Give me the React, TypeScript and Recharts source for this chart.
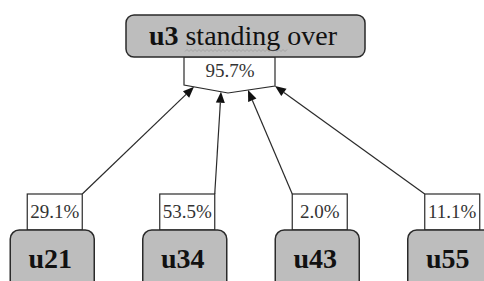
import React from 'react';
import { ComposedChart, Bar, XAxis, YAxis, Customized } from 'recharts';

// diagram values
const childNames = ['u21', 'u34', 'u43', 'u55'];
const childShares = [29.1, 53.5, 2.0, 11.1];
const parentName = 'u3';
const parentAction = 'standing over';
const parentShare = 95.7;

const data = childNames.map((name, i) => ({ name, share: childShares[i] }));

const W = 484;
const H = 281;
const SERIF = '"Liberation Serif", "Times New Roman", serif';
const BOX_FILL = '#bdbdbd';
const EDGE = '#2a2a2a';

// layout of the parent block
const P = { left: 126, right: 365, top: 15, bottom: 57 };
const TAG = { left: 184, right: 275, cornerL: 85, dip: 93, dipX: 228, cornerR: 86 };

// y of the tag's bottom edge at a given x
const tagBottomY = (x: number) => {
  if (x <= TAG.dipX) {
    return TAG.cornerL + ((x - TAG.left) / (TAG.dipX - TAG.left)) * (TAG.dip - TAG.cornerL);
  }
  return TAG.dip + ((x - TAG.dipX) / (TAG.right - TAG.dipX)) * (TAG.cornerR - TAG.dip);
};

const fmt = (v: number) => `${v.toFixed(1)}%`;

const ParentNode = () => {
  const squiggle: string[] = [];
  for (let x = 185, k = 0; x <= 287; x += 2, k++) {
    squiggle.push(`${x},${k % 2 ? 49.5 : 51.5}`);
  }
  return (
    <g>
      <path
        d={`M${TAG.left},${P.bottom} L${TAG.right},${P.bottom} L${TAG.right},${TAG.cornerR} L${TAG.dipX},${TAG.dip} L${TAG.left},${TAG.cornerL} Z`}
        fill="#fff"
        stroke={EDGE}
        strokeWidth={1.2}
      />
      <text x={230} y={77} textAnchor="middle" fontFamily={SERIF} fontSize={19} fill="#333">
        {fmt(parentShare)}
      </text>
      <rect
        x={P.left}
        y={P.top}
        width={P.right - P.left}
        height={P.bottom - P.top}
        rx={8}
        fill={BOX_FILL}
        stroke={EDGE}
        strokeWidth={1.5}
      />
      <text x={243} y={45} textAnchor="middle" fontFamily={SERIF} fontSize={28} fill="#111">
        <tspan fontWeight="bold">{parentName}</tspan>
        <tspan> {parentAction}</tspan>
      </text>
      <polyline points={squiggle.join(' ')} fill="none" stroke="#9a9a9a" strokeWidth={0.8} />
    </g>
  );
};

const ChildNode = (props: any) => {
  const { x, width, index } = props;
  const item = props.payload && props.payload.name ? props.payload : data[index];
  const cx = x + width / 2;
  const labelL = cx - 25;
  const labelR = cx + 30;
  const labelTop = 194;
  const nodeTop = 230;

  // arrow from the label corner to the parent tag
  const sx = index < 2 ? labelR : labelL;
  const sy = labelTop;
  const tx = 194 + index * 27;
  const ty = tagBottomY(tx);
  const dx = tx - sx;
  const dy = ty - sy;
  const len = Math.sqrt(dx * dx + dy * dy);
  const ux = dx / len;
  const uy = dy / len;
  const headL = 11;
  const headW = 4.5;
  const bx = tx - ux * headL;
  const by = ty - uy * headL;
  const head = `${tx},${ty} ${bx - uy * headW},${by + ux * headW} ${bx + uy * headW},${by - ux * headW}`;

  return (
    <g>
      <line x1={sx} y1={sy} x2={bx} y2={by} stroke={EDGE} strokeWidth={1.2} />
      <polygon points={head} fill="#111" />
      <rect x={labelL} y={labelTop} width={labelR - labelL} height={nodeTop - labelTop} fill="#fff" stroke={EDGE} strokeWidth={1.2} />
      <text x={(labelL + labelR) / 2} y={218} textAnchor="middle" fontFamily={SERIF} fontSize={19} fill="#333">
        {fmt(item.share)}
      </text>
      <rect x={cx - 42} y={nodeTop} width={84} height={70} rx={9} fill={BOX_FILL} stroke={EDGE} strokeWidth={1.5} />
      <text x={cx - 2} y={268} textAnchor="middle" fontFamily={SERIF} fontSize={28} fontWeight="bold" fill="#111">
        {item.name}
      </text>
    </g>
  );
};

export default function App() {
  return (
    <div style={{ position: 'absolute', left: 0, top: 0, width: W, height: H, overflow: 'hidden', background: '#fff' }}>
      <ComposedChart width={W} height={H} data={data} margin={{ top: 0, right: -32, bottom: 0, left: -14 }}>
        <XAxis dataKey="name" type="category" hide />
        <YAxis type="number" domain={[0, 100]} hide />
        <Customized component={ParentNode} />
        <Bar dataKey="share" isAnimationActive={false} shape={ChildNode} />
      </ComposedChart>
    </div>
  );
}
